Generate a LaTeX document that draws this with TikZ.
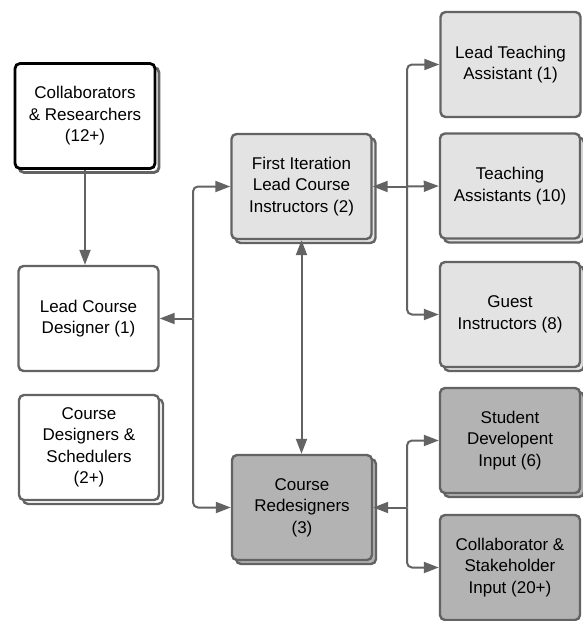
\documentclass[tikz,border=0pt]{standalone}
\usepackage{fontspec}
\setmainfont{Liberation Sans}
\usetikzlibrary{arrows.meta,shadows}
\definecolor{edge}{HTML}{636363}
\definecolor{lightfill}{HTML}{E3E3E3}
\definecolor{darkfill}{HTML}{B3B3B3}
\tikzset{
  box/.style={draw=edge, line width=2.4pt, rounded corners=5pt, minimum width=140pt, minimum height=105pt,
    align=center, font=\fontsize{17}{21.5}\selectfont, inner sep=2pt},
  stacked/.style={copy shadow={shadow xshift=4pt, shadow yshift=-4pt}},
  lightbox/.style={box, fill=lightfill},
  darkbox/.style={box, fill=darkfill},
  whitebox/.style={box, fill=white},
  conn/.style={draw=edge, line width=2pt, rounded corners=5pt},
  tip/.style={-{Triangle[length=15pt,width=11pt]}},
  tips/.style={{Triangle[length=15pt,width=11pt]}-{Triangle[length=15pt,width=11pt]}},
}
\begin{document}
\begin{tikzpicture}[x=1pt,y=-1pt]
\useasboundingbox (0,0) rectangle (582,621);
\node[whitebox, draw=black, line width=2.8pt, copy shadow={shadow xshift=4pt, shadow yshift=-4pt, draw=edge}] (collab) at (85,116) {Collaborators\\\& Researchers\\(12+)};
\node[whitebox] (lcd) at (88.5,318.5) {Lead Course\\Designer (1)};
\node[whitebox, stacked] (cds) at (89,447.5) {Course\\Designers \&\\Schedulers\\(2+)};
\node[lightbox, stacked] (fi) at (301.5,186.5) {First Iteration\\Lead Course\\Instructors (2)};
\node[lightbox] (lta) at (510.5,64.5) {Lead Teaching\\Assistant (1)};
\node[lightbox, stacked] (ta) at (510,186) {Teaching\\Assistants (10)};
\node[lightbox, stacked] (gi) at (510,314.5) {Guest\\Instructors (8)};
\node[darkbox, stacked] (cr) at (302,507.5) {Course\\Redesigners\\(3)};
\node[darkbox, stacked] (sdi) at (510,440.5) {Student\\Developent\\Input (6)};
\node[darkbox] (csi) at (510,567.5) {Collaborator \&\\Stakeholder\\Input (20+)};

\coordinate (j1) at (193,318.5);
\coordinate (j2) at (407,186.5);
\coordinate (j3) at (407,507.5);

\draw[conn, tip] (collab.south) -- (collab.south |- lcd.north);
\draw[conn, tip] (j1) -- (lcd.east);
\draw[conn, tip] (j1) |- (fi.west);
\draw[conn, tip] (j1) |- (cr.west);
\draw[conn, tips] (fi.south) -- (fi.south |- cr.north);
\draw[conn, tip] (j2) -- (fi.east);
\draw[conn, tip] (j2) |- (lta.west);
\draw[conn, tip] (j2) -- (ta.west);
\draw[conn, tip] (j2) |- (gi.west);
\draw[conn, tip] (j3) -- (cr.east);
\draw[conn, tip] (j3) |- (sdi.west);
\draw[conn, tip] (j3) |- (csi.west);
\end{tikzpicture}
\end{document}
